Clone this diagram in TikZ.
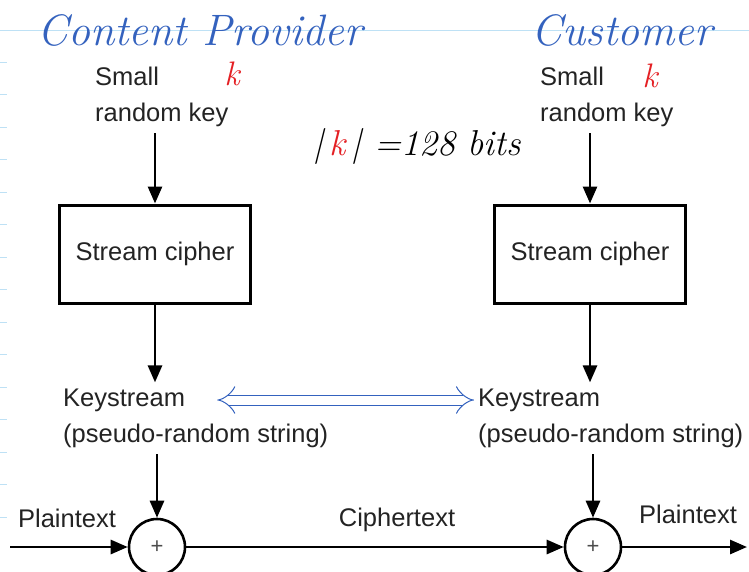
\documentclass[tikz,border=0pt]{standalone}
\usepackage{fontspec}
\setsansfont{Liberation Sans}
\usepackage{xcolor}
\usetikzlibrary{arrows, arrows.meta, positioning}
\definecolor{inkblue}{RGB}{52,98,190}
\definecolor{inkred}{RGB}{228,32,36}
\definecolor{gridblue}{RGB}{190,225,245}
\definecolor{textgray}{RGB}{35,35,35}
\tikzstyle{arrow} = [line width=2.8pt,-{Triangle[length=17pt,width=14pt]}]
\tikzstyle{txt} = [font=\sffamily\fontsize{25.5}{36}\selectfont, text=textgray, inner sep=6pt]
\tikzstyle{hand} = [font=\rmfamily\itshape\fontsize{44}{44}\selectfont, inner sep=0pt]
\tikzstyle{box} = [draw, line width=3pt, minimum width=191pt, minimum height=98pt, font=\sffamily\fontsize{25.5}{30}\selectfont, text=textgray]
\tikzstyle{xor} = [draw, circle, line width=2.6pt, minimum size=56pt, inner sep=0pt, font=\sffamily\fontsize{22}{22}\selectfont, text=black!70]

\begin{document}
\begin{tikzpicture}[x=1pt,y=-1pt]
        % notebook paper
        \useasboundingbox (0,0) rectangle (749,571);
        \draw[gridblue, line width=1pt] (0,30) -- (749,30);
        \foreach \i in {0,...,14}
            \draw[gridblue, line width=1pt] (0,{62+32.5*\i}) -- (7,{62+32.5*\i});

        % content provider side
        \node[hand, text=inkblue] (prov) at (200,30) {Content Provider};
        \node[txt, align=left, anchor=west] (key1) at (89,97) {Small\\random key};
        \node[hand, text=inkred, font=\rmfamily\itshape\fontsize{34}{34}\selectfont] (k1) at (232,74) {k};
        \node[box] (cipher1) at (155,254) {Stream cipher};
        \node[txt, anchor=west] (ks1) at (57,400) {Keystream};
        \node[txt, anchor=west] (ps1) at (57,436) {(pseudo-random string)};
        \node[xor] (xor1) at (157,547) {+};

        % customer side
        \node[hand, text=inkblue] (cust) at (622,30) {Customer};
        \node[txt, align=left, anchor=west] (key2) at (534,97) {Small\\random key};
        \node[hand, text=inkred, font=\rmfamily\itshape\fontsize{34}{34}\selectfont] (k2) at (650,76) {k};
        \node[box] (cipher2) at (590,254) {Stream cipher};
        \node[txt, anchor=west] (ks2) at (472,400) {Keystream};
        \node[txt, anchor=west] (ps2) at (472,436) {(pseudo-random string)};
        \node[xor] (xor2) at (593,547) {+};

        % key length note
        \node[hand, font=\rmfamily\itshape\fontsize{36}{36}\selectfont] (len) at (417,146) {|\,\textcolor{inkred}{k}\,| =128 bits};

        % plaintext / ciphertext
        \coordinate (pin) at (10,547);
        \coordinate (pout) at (747,547);
        \node[txt, inner sep=0pt] (plain1) at (67,518) {Plaintext};
        \node[txt, inner sep=0pt] (ciph) at (397,520) {Ciphertext};
        \node[txt, inner sep=0pt] (plain2) at (688,514) {Plaintext};

        \draw[arrow] (key1.south -| cipher1.north) -- (cipher1.north);
        \draw[arrow] (cipher1.south) -- (cipher1.south |- ks1.north);
        \draw[arrow] (ps1.south -| xor1.north) -- (xor1.north);
        \draw[arrow] (key2.south -| cipher2.north) -- (cipher2.north);
        \draw[arrow] (cipher2.south) -- (cipher2.south |- ks2.north);
        \draw[arrow] (ps2.south -| xor2.north) -- (xor2.north);
        \draw[arrow] (pin) -- (xor1.west);
        \draw[arrow] (xor1.east) -- (xor2.west);
        \draw[arrow] (xor2.east) -- (pout);

        % same keystream on both sides
        \draw[inkblue, line width=1pt, double=white, double distance=9pt, {Implies}-{Implies}] ([xshift=26pt]ks1.east) -- ([xshift=2pt]ks2.west);
    \end{tikzpicture}
\end{document}
